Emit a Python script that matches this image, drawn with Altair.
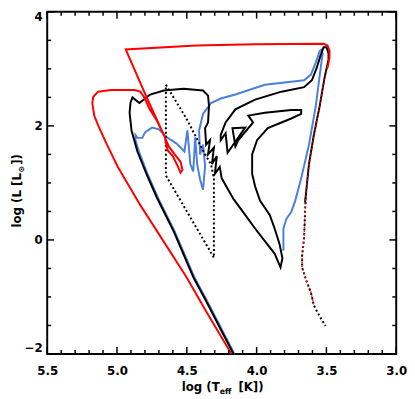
import altair as alt
import pandas as pd

# ---------------- data (log Teff, log L) ----------------
red_T = [4.180, 4.362, 4.503, 4.833, 4.994, 5.072, 5.135, 5.163, 5.177, 5.170, 5.135, 5.044,
         4.875, 4.833, 4.805, 4.770, 4.714, 4.657, 4.629, 4.587, 4.545, 4.531, 4.545, 4.566,
         4.601, 4.636, 4.650, 4.657, 4.784, 4.938, 4.433, 4.011, 3.520, 3.492, 3.478, 3.478, 3.492]
red_L = [-2.00, -1.25, -0.65, 0.61, 1.28, 1.67, 2.01, 2.18, 2.40, 2.51, 2.60, 2.63,
         2.63, 2.60, 2.50, 2.31, 2.09, 1.80, 1.64, 1.50, 1.37, 1.23, 1.18, 1.30,
         1.47, 1.57, 1.70, 1.80, 2.48, 3.34, 3.41, 3.43, 3.44, 3.41, 3.32, 3.19, 3.02]

red_dot_T = [3.492, 3.513, 3.548, 3.590, 3.625, 3.646, 3.653, 3.660, 3.674, 3.674, 3.646, 3.611, 3.590]
red_dot_L = [3.02, 2.85, 2.35, 1.84, 1.33, 0.82, 0.49, 0.03, -0.27, -0.48, -0.70, -0.92, -1.15]

black_T = [4.166, 4.362, 4.454, 4.594, 4.714, 4.784, 4.854, 4.896, 4.910, 4.903, 4.889, 4.840,
           4.763, 4.664, 4.524, 4.384, 4.348, 4.341, 4.348, 4.369, 4.362, 4.334, 4.348, 4.306,
           4.320, 4.285, 4.299, 4.264, 4.250, 4.166, 4.082, 4.011, 3.941, 3.871, 3.829, 3.815,
           3.836, 3.871, 3.906, 3.976, 4.011, 4.032, 4.032, 3.997, 3.920, 3.752, 3.681, 3.681,
           3.752, 3.941, 4.060, 4.025, 4.131, 4.152, 4.173, 4.082, 4.208, 4.222, 4.257, 4.257,
           4.222, 4.152, 4.011, 3.822, 3.660, 3.604, 3.569, 3.541, 3.520, 3.499, 3.485, 3.485,
           3.513, 3.548, 3.590, 3.625, 3.646, 3.653]
black_L = [-2.00, -1.07, -0.65, 0.15, 0.74, 1.13, 1.55, 1.92, 2.23, 2.41, 2.50, 2.40,
           2.55, 2.62, 2.65, 2.62, 2.53, 2.35, 2.06, 1.96, 1.67, 1.75, 1.50, 1.62,
           1.33, 1.47, 1.16, 1.28, 1.08, 0.72, 0.44, 0.20, -0.02, -0.24, -0.48, -0.32,
           -0.07, 0.20, 0.44, 0.69, 0.94, 1.16, 1.50, 1.75, 1.96, 2.13, 2.21, 2.28,
           2.28, 2.23, 2.18, 2.06, 1.75, 1.64, 1.96, 1.97, 1.53, 1.87, 1.75, 1.84,
           2.06, 2.29, 2.46, 2.60, 2.68, 2.80, 3.02, 3.24, 3.38, 3.38, 3.27, 3.16,
           2.85, 2.35, 1.84, 1.33, 0.82, 0.66]

black_dot_T = [3.646, 3.653, 3.660, 3.674, 3.674, 3.646, 3.611, 3.590, 3.548, 3.506]
black_dot_L = [0.82, 0.49, 0.03, -0.27, -0.48, -0.70, -0.92, -1.15, -1.34, -1.51]

quad_T = [4.650, 4.503, 4.376, 4.327, 4.306, 4.306, 4.650, 4.650]
quad_L = [2.72, 2.13, 1.53, 1.33, 1.08, -0.31, 1.13, 2.72]

blue_T = [4.159, 4.355, 4.447, 4.587, 4.707, 4.777, 4.840, 4.868, 4.868, 4.854, 4.819, 4.798,
          4.749, 4.700, 4.643, 4.573, 4.517, 4.496, 4.475, 4.454, 4.440, 4.426, 4.405, 4.384,
          4.369, 4.384, 4.405, 4.412, 4.384, 4.327, 4.257, 4.152, 3.941, 3.660, 3.611, 3.576,
          3.548, 3.534, 3.527, 3.541, 3.576, 3.625, 3.681, 3.723, 3.752, 3.787, 3.808, 3.808]
blue_L = [-2.00, -1.07, -0.65, 0.15, 0.74, 1.13, 1.53, 1.75, 1.84, 1.79, 1.79, 1.89,
          1.97, 1.94, 1.80, 1.69, 1.55, 1.92, 1.33, 1.20, 1.80, 1.33, 1.06, 0.88,
          1.30, 1.67, 1.50, 1.92, 2.21, 2.40, 2.48, 2.55, 2.72, 2.80, 2.90, 3.11,
          3.31, 3.34, 3.27, 3.02, 2.35, 1.67, 1.08, 0.69, 0.49, 0.37, 0.20, -0.19]

x_major = [5.5, 5.0, 4.5, 4.0, 3.5, 3.0]
x_minor = [5.4, 5.3, 5.2, 5.1, 4.9, 4.8, 4.7, 4.6, 4.4, 4.3, 4.2, 4.1,
           3.9, 3.8, 3.7, 3.6, 3.4, 3.3, 3.2, 3.1]
y_major = [-2, 0, 2, 4]
y_minor = [-1.5, -1, -0.5, 0.5, 1, 1.5, 2.5, 3, 3.5]

# ---------------- layout ----------------
W, H = 356, 349
FONT = "DejaVu Sans"
FW = "bold"
FS = 12
RED = "#ff0000"
BLUE = "#4a7fe0"

xs = alt.Scale(domain=[3.0, 5.5], reverse=True, nice=False, zero=False)
ys = alt.Scale(domain=[-2, 4], nice=False, zero=False)

x_axis = alt.Axis(values=x_major, format=".1f", tickSize=0, domain=False, grid=False,
                  labelFont=FONT, labelFontSize=FS, labelFontWeight=FW, labelColor="black",
                  labelPadding=12, labelFlush=False, labelOverlap=False, title=None)
y_axis = alt.Axis(values=y_major, format="d", tickSize=0, domain=False, grid=False,
                  labelFont=FONT, labelFontSize=FS, labelFontWeight=FW, labelColor="black",
                  labelPadding=5, labelFlush=True, labelOverlap=False, title=None)


def track(T, L, color, dash=None, width=2.0):
    df = pd.DataFrame({"T": T, "L": L, "i": range(len(T))})
    kw = dict(color=color, strokeWidth=width, clip=True)
    if dash:
        kw["strokeDash"] = dash
    return alt.Chart(df).mark_line(**kw).encode(
        x=alt.X("T:Q", scale=xs, axis=x_axis),
        y=alt.Y("L:Q", scale=ys, axis=y_axis),
        order="i:Q",
    )


def xticks(vals, length):
    df = pd.DataFrame({"T": vals})
    b = alt.Chart(df).mark_rule(color="black", strokeWidth=1.5).encode(
        x=alt.X("T:Q", scale=xs, axis=x_axis), y=alt.value(H), y2=alt.value(H - length))
    t = alt.Chart(df).mark_rule(color="black", strokeWidth=1.5).encode(
        x=alt.X("T:Q", scale=xs, axis=x_axis), y=alt.value(0), y2=alt.value(length))
    return [b, t]


def yticks(vals, length):
    df = pd.DataFrame({"L": vals})
    l = alt.Chart(df).mark_rule(color="black", strokeWidth=1.5).encode(
        y=alt.Y("L:Q", scale=ys, axis=y_axis), x=alt.value(0), x2=alt.value(length))
    r = alt.Chart(df).mark_rule(color="black", strokeWidth=1.5).encode(
        y=alt.Y("L:Q", scale=ys, axis=y_axis), x=alt.value(W), x2=alt.value(W - length))
    return [l, r]


def label(text, x, y, size=FS, angle=0, align="left"):
    return alt.Chart(pd.DataFrame({"t": [text]})).mark_text(
        font=FONT, fontSize=size, fontWeight=FW, color="black", align=align,
        baseline="alphabetic", angle=angle).encode(text="t:N", x=alt.value(x), y=alt.value(y))


layers = [
    track(blue_T, blue_L, BLUE),
    track(black_T, black_L, "black"),
    track(quad_T, quad_L, "black", dash=[2, 2.5]),
    track(black_dot_T, black_dot_L, "black", dash=[2, 2.5]),
    track(red_T, red_L, RED),
    track(red_dot_T, red_dot_L, RED, dash=[1.5, 2.5], width=1.5),
]
layers += xticks(x_major, 7) + xticks(x_minor, 4) + yticks(y_major, 7) + yticks(y_minor, 4)

# axis titles (with subscripts)
layers += [
    label("log (T", 176, 387, align="right"),
    label("eff", 176, 390, size=8),
    label("[K])", 195, 387),
    label("log (L [L", -27, 220, angle=270, align="left"),
    label("⊙", -24, 164, size=8, angle=270, align="left"),
    label("])", -27, 156, angle=270, align="left"),
]

chart = alt.layer(*layers).properties(
    width=W, height=H,
    autosize=alt.AutoSizeParams(type="none"),
    padding={"left": 40, "top": 0, "right": 11, "bottom": 42},
).configure_view(stroke="black", strokeWidth=2)

chart.save("out.html", embed_options={"renderer": "svg", "actions": False})
